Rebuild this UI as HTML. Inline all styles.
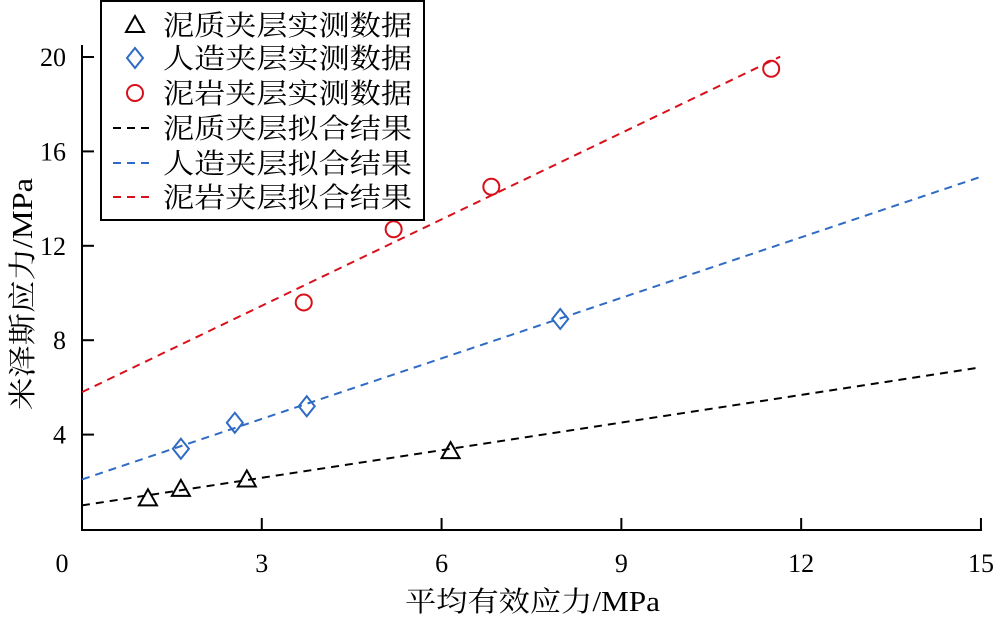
<!DOCTYPE html>
<html><head><meta charset="utf-8"><style>body{margin:0;background:#fff}svg{display:block}text{font-family:"Liberation Serif","Noto Serif CJK SC",serif;fill:#000}</style></head>
<body>
<svg id="chart" width="1000" height="621" xmlns="http://www.w3.org/2000/svg">
<g id="axes"></g>
<g id="series"></g>
<g id="legend">
<rect x="101" y="1" width="323" height="219" fill="#fff" stroke="#000" stroke-width="2"/>
</g>
</svg>
<script>
const xTicks=[0,3,6,9,12,15];
const yTicks=[4,8,12,16,20];
const clayX=[1.1,1.65,2.75,6.15];
const clayY=[1.3,1.7,2.1,3.3];
const artX=[1.65,2.55,3.75,7.98];
const artY=[3.4,4.5,5.2,8.9];
const mudX=[3.7,5.2,6.83,11.5];
const mudY=[9.6,12.7,14.5,19.5];
const clayFit=[1.0,0.39,15];
const artFit=[2.1,0.855,15];
const mudFit=[5.8,1.22,11.65];
const legendLabels=["泥质夹层实测数据","人造夹层实测数据","泥岩夹层实测数据","泥质夹层拟合结果","人造夹层拟合结果","泥岩夹层拟合结果"];
const NS="http://www.w3.org/2000/svg";
const X=v=>82+v*59.93, Y=v=>529-v*23.6;
function mk(tag,attrs,parent){const e=document.createElementNS(NS,tag);for(const k in attrs)e.setAttribute(k,attrs[k]);parent.appendChild(e);return e;}
const axes=document.getElementById('axes'),series=document.getElementById('series'),legend=document.getElementById('legend');
let l=mk('line',{x1:82,y1:530,x2:982,y2:530,stroke:'#000','stroke-width':2},axes);


l=mk('line',{x1:82,y1:45,x2:82,y2:531,stroke:'#000','stroke-width':2},axes);


xTicks.forEach(v=>{const t=mk('line',{x1:X(v),y1:530,x2:X(v),y2:518,stroke:'#000','stroke-width':2},axes);


const tx=mk('text',{x:v===0?62:X(v),y:572,'font-size':26,'text-anchor':'middle'},axes);tx.textContent=v;

});
yTicks.forEach(v=>{const t=mk('line',{x1:82,y1:Y(v),x2:94,y2:Y(v),stroke:'#000','stroke-width':2},axes);


const tx=mk('text',{x:66,y:Y(v)+9,'font-size':26,'text-anchor':'end'},axes);tx.textContent=v;

});
let tt=mk('text',{x:405,y:611,'font-size':28,textLength:255,lengthAdjust:'spacingAndGlyphs'},axes);tt.textContent='平均有效应力/MPa';


tt=mk('text',{x:0,y:0,'font-size':28,textLength:232,lengthAdjust:'spacingAndGlyphs',transform:'translate(32,410) rotate(-90)'},axes);tt.textContent='米泽斯应力/MPa';


function fit(f,c,n){const p=mk('line',{x1:X(0),y1:Y(f[0]),x2:X(f[2]),y2:Y(f[0]+f[1]*f[2]),stroke:c,'stroke-width':2,'stroke-dasharray':'8,6'},series);

}
fit(clayFit,'#000','clay-fit-line');fit(artFit,'#2f6bc4','artificial-fit-line');fit(mudFit,'#d8101a','mudstone-fit-line');
function marker(type,cx,cy,g){let e;
if(type==='tri')e=mk('polygon',{points:`${cx},${cy-9} ${cx-9},${cy+7} ${cx+9},${cy+7}`,fill:'none',stroke:'#000','stroke-width':2},g);
else if(type==='dia')e=mk('polygon',{points:`${cx},${cy-10} ${cx+8},${cy} ${cx},${cy+10} ${cx-8},${cy}`,fill:'none',stroke:'#2f6bc4','stroke-width':2},g);
else e=mk('circle',{cx:cx,cy:cy,r:8,fill:'none',stroke:'#d8101a','stroke-width':2},g);return e;}
function pts(xs,ys,type,n){xs.forEach((x,i)=>{const e=marker(type,X(x),Y(ys[i]),series);

});}
pts(clayX,clayY,'tri','clay-point');pts(artX,artY,'dia','artificial-point');pts(mudX,mudY,'cir','mudstone-point');
const ly=[25,58,93,128,163,197],cols=['#000','#2f6bc4','#d8101a'];
legendLabels.forEach((s,i)=>{let m;
if(i<3){m=marker(['tri','dia','cir'][i],135,ly[i],legend);}
else{m=mk('line',{x1:113,y1:ly[i],x2:155,y2:ly[i],stroke:cols[i-3],'stroke-width':2,'stroke-dasharray':'8,6'},legend);}


const t=mk('text',{x:163,y:ly[i]+10,'font-size':28,textLength:249,lengthAdjust:'spacingAndGlyphs'},legend);t.textContent=s;

});
</script>
</body></html>
